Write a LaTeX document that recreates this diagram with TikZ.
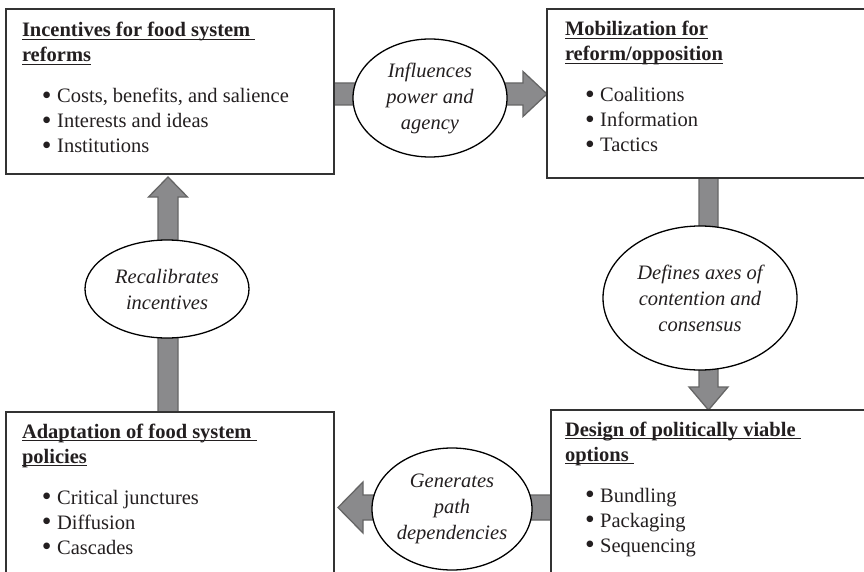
\documentclass[tikz,border=0pt]{standalone}
\usepackage{fontspec}
\setmainfont{Liberation Serif}
\usetikzlibrary{shapes.geometric}
\definecolor{txt}{HTML}{231F20}
\definecolor{boxline}{HTML}{333333}
\definecolor{arrfill}{HTML}{8A8A8C}
\definecolor{arrline}{HTML}{666666}
\newcommand\myul[1]{\setbox0\hbox{#1}\rlap{\rule[-2.6pt]{\wd0}{1pt}}\box0}
\newcommand\bitem[1]{\hspace*{20pt}\raisebox{-1.6pt}{\scalebox{1.35}{\textbullet}}\hspace{5.5pt}#1}
\begin{document}
\begin{tikzpicture}[x=1pt,y=-1pt,
  font=\fontsize{20.5}{25}\selectfont, text=txt,
  box/.style={draw=boxline, line width=1.5pt, fill=white, rectangle, inner sep=0pt, outer sep=0pt},
  txtblock/.style={anchor=north west, inner sep=0pt, outer sep=0pt, align=left},
  bubble/.style={ellipse, draw=black, line width=1.3pt, fill=white, inner sep=0pt, align=center,
    font=\fontsize{20.5}{26}\selectfont\itshape},
  blockarrow/.style={fill=arrfill, draw=arrline, line width=1.3pt, line join=miter}]
\useasboundingbox (0,0) rectangle (864,572);
\clip (0,0) rectangle (864,572);
% box positions (coordinates only, drawn after arrows)
\path (170,91.5) coordinate (c1) (723.5,93.5) coordinate (c2)
      (725.5,515) coordinate (c3) (170,516) coordinate (c4);
\path node[minimum width=328pt, minimum height=165pt, inner sep=0pt, outer sep=0pt] (b1) at (c1) {}
      node[minimum width=353pt, minimum height=169pt, inner sep=0pt, outer sep=0pt] (b2) at (c2) {}
      node[minimum width=349pt, minimum height=210pt, inner sep=0pt, outer sep=0pt] (b3) at (c3) {}
      node[minimum width=328pt, minimum height=208pt, inner sep=0pt, outer sep=0pt] (b4) at (c4) {};
% arrows
\draw[blockarrow] ([xshift=-3pt]b1.east |- 0,83) -- (523,83) -- (523,71.5) -- (b2.west |- 0,94)
  -- (523,116.5) -- (523,105) -- ([xshift=-3pt]b1.east |- 0,105) -- cycle;
\draw[blockarrow] ([yshift=3pt]b2.south -| 699,0) -- (699,387) -- (689,387) -- (b3.north -| 708.5,0)
  -- (728,387) -- (718,387) -- ([yshift=3pt]b2.south -| 718,0) -- cycle;
\draw[blockarrow] ([yshift=-3pt]b4.north -| 158,0) -- (158,197) -- (148.5,197) -- (168,177)
  -- (187.5,197) -- (178,197) -- ([yshift=-3pt]b4.north -| 178,0) -- cycle;
\draw[blockarrow] ([xshift=3pt]b3.west |- 0,495) -- (363,495) -- (363,482) -- (338,507.5)
  -- (363,533) -- (363,520) -- ([xshift=3pt]b3.west |- 0,520) -- cycle;
% boxes
\node[box, minimum width=328pt, minimum height=165pt] at (b1) {};
\node[box, minimum width=353pt, minimum height=169pt] at (b2) {};
\node[box, minimum width=349pt, minimum height=210pt] at (b3) {};
\node[box, minimum width=328pt, minimum height=208pt] at (b4) {};
% box texts
\node[txtblock] (t1) at (22,19.5) {\strut\myul{\textbf{Incentives for food system\ }}\\
  \myul{\textbf{reforms}}\\[16pt]
  \bitem{Costs, benefits, and salience}\\ \bitem{Interests and ideas}\\ \bitem{Institutions}};
\node[txtblock] (t2) at (565,18.5) {\strut\myul{\textbf{Mobilization for}}\\
  \myul{\textbf{reform/opposition}}\\[16pt]
  \bitem{Coalitions}\\ \bitem{Information}\\ \bitem{Tactics}};
\node[txtblock] (t3) at (565,418.5) {\strut\myul{\textbf{Design of politically viable\ }}\\
  \myul{\textbf{options\ }}\\[16pt]
  \bitem{Bundling}\\ \bitem{Packaging}\\ \bitem{Sequencing}};
\node[txtblock] (t4) at (22,420.5) {\strut\myul{\textbf{Adaptation of food system\ }}\\
  \myul{\textbf{policies}}\\[16pt]
  \bitem{Critical junctures}\\ \bitem{Diffusion}\\ \bitem{Cascades}};
% ellipses
\node[bubble, minimum width=154pt, minimum height=118pt] (e1) at (430,98) {Influences\\power and\\agency};
\node[bubble, minimum width=194pt, minimum height=144pt] (e2) at (700,298) {Defines axes of\\contention and\\consensus};
\node[bubble, minimum width=164pt, minimum height=98pt] (e3) at (167,289) {Recalibrates\\incentives};
\node[bubble, minimum width=160pt, minimum height=122pt] (e4) at (452,509) {Generates\\path\\dependencies};
\end{tikzpicture}
\end{document}
